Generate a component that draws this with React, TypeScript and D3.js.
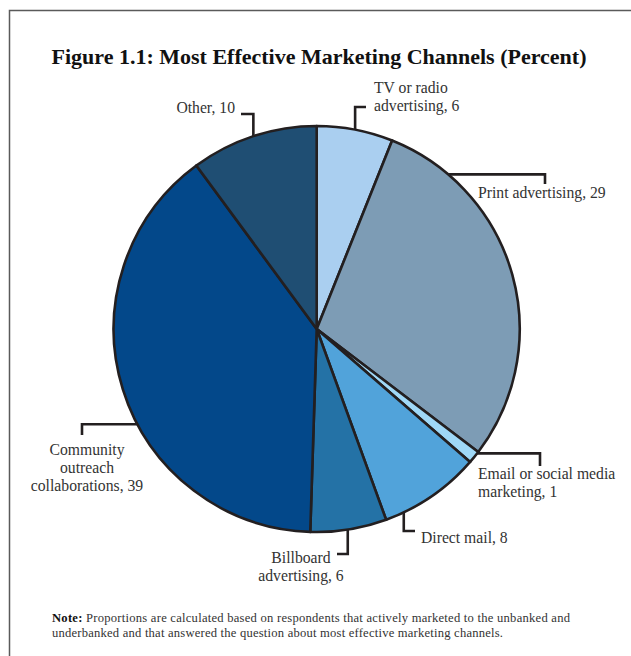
import React from "react";
import * as d3 from "d3";

const categories = [
  "TV or radio advertising",
  "Print advertising",
  "Email or social media marketing",
  "Direct mail",
  "Billboard advertising",
  "Community outreach collaborations",
  "Other",
];
const values = [6, 29, 1, 8, 6, 39, 10];
const colors = ["#aacff0", "#7d9cb5", "#9fd8f7", "#51a3da", "#2472a6", "#03488a", "#1f4e73"];
const labelLines = [
  ["TV or radio", "advertising, 6"],
  ["Print advertising, 29"],
  ["Email or social media", "marketing, 1"],
  ["Direct mail, 8"],
  ["Billboard", "advertising, 6"],
  ["Community", "outreach", "collaborations, 39"],
  ["Other, 10"],
];
const noteLines = [
  "Proportions are calculated based on respondents that actively marketed to the unbanked and",
  "underbanked and that answered the question about most effective marketing channels.",
];

// annotation layout (leader anchor angle in degrees, elbow points, text placement)
const labelLayout = [
  { angle: null, pts: [[null, 107], [366, 107]], tx: 374, ty: 93, anchor: "start" },
  { angle: 40.4, pts: [[545, null], [545, 184]], tx: 478, ty: 198, anchor: "start" },
  { angle: 127.8, pts: [[540, null], [540, 466]], tx: 478, ty: 479, anchor: "start" },
  { angle: 154.6, pts: [[null, 531], [415, 531]], tx: 421, ty: 543, anchor: "start" },
  { angle: 171.2, pts: [[null, 554], [337, 554]], tx: 301, ty: 563, anchor: "middle" },
  { angle: 242, pts: [[82, null], [82, 435]], tx: 87, ty: 455, anchor: "middle" },
  { angle: null, pts: [[null, 114], [241, 114]], tx: 235, ty: 113, anchor: "end" },
];

const W = 631;
const H = 656;
const cx = 316.7;
const cy = 329;
const R = 203;

export default function App() {
  const pie = d3.pie<number>().sort(null).value((d) => d);
  const arcs = pie(values);
  const arc = d3.arc<d3.PieArcDatum<number>>().innerRadius(0).outerRadius(R);
  const font = "'Liberation Serif', 'Times New Roman', serif";

  return (
    <svg width={W} height={H} style={{ position: "absolute", left: 0, top: 0 }} fontFamily={font}>
      <rect x={9.5} y={10.5} width={800} height={800} fill="white" stroke="#5a5a5a" strokeWidth={1.5} />
      <text x={319} y={64} textAnchor="middle" fontSize={22} fontWeight="bold" fill="#111">
        Figure 1.1: Most Effective Marketing Channels (Percent)
      </text>
      <g transform={`translate(${cx},${cy})`}>
        {arcs.map((a, i) => (
          <path key={categories[i]} d={arc(a) || ""} fill={colors[i]} stroke="#231f20" strokeWidth={2.6} strokeLinejoin="round" />
        ))}
      </g>
      {arcs.map((a, i) => {
        const L = labelLayout[i];
        const ang = L.angle != null ? (L.angle * Math.PI) / 180 : (a.startAngle + a.endAngle) / 2;
        const sx = cx + R * Math.sin(ang);
        const sy = cy - R * Math.cos(ang);
        let px = sx;
        let py = sy;
        const path = d3.path();
        path.moveTo(sx, sy);
        L.pts.forEach(([x, y]) => {
          px = x == null ? px : x;
          py = y == null ? py : y;
          path.lineTo(px, py);
        });
        return (
          <g key={"lab" + i}>
            <path d={path.toString()} fill="none" stroke="#231f20" strokeWidth={2.6} />
            <text x={L.tx} y={L.ty} textAnchor={L.anchor as any} fontSize={15.7} fill="#333">
              {labelLines[i].map((ln, j) => (
                <tspan key={j} x={L.tx} dy={j === 0 ? 0 : 18}>
                  {ln}
                </tspan>
              ))}
            </text>
          </g>
        );
      })}
      <text x={52} y={622} fontSize={12.6} fill="#333" textLength={518} lengthAdjust="spacing">
        <tspan fontWeight="bold" fill="#111">Note:</tspan>
        <tspan> {noteLines[0]}</tspan>
      </text>
      <text x={52} y={636.5} fontSize={12.6} fill="#333" textLength={451} lengthAdjust="spacing">
        {noteLines[1]}
      </text>
    </svg>
  );
}
